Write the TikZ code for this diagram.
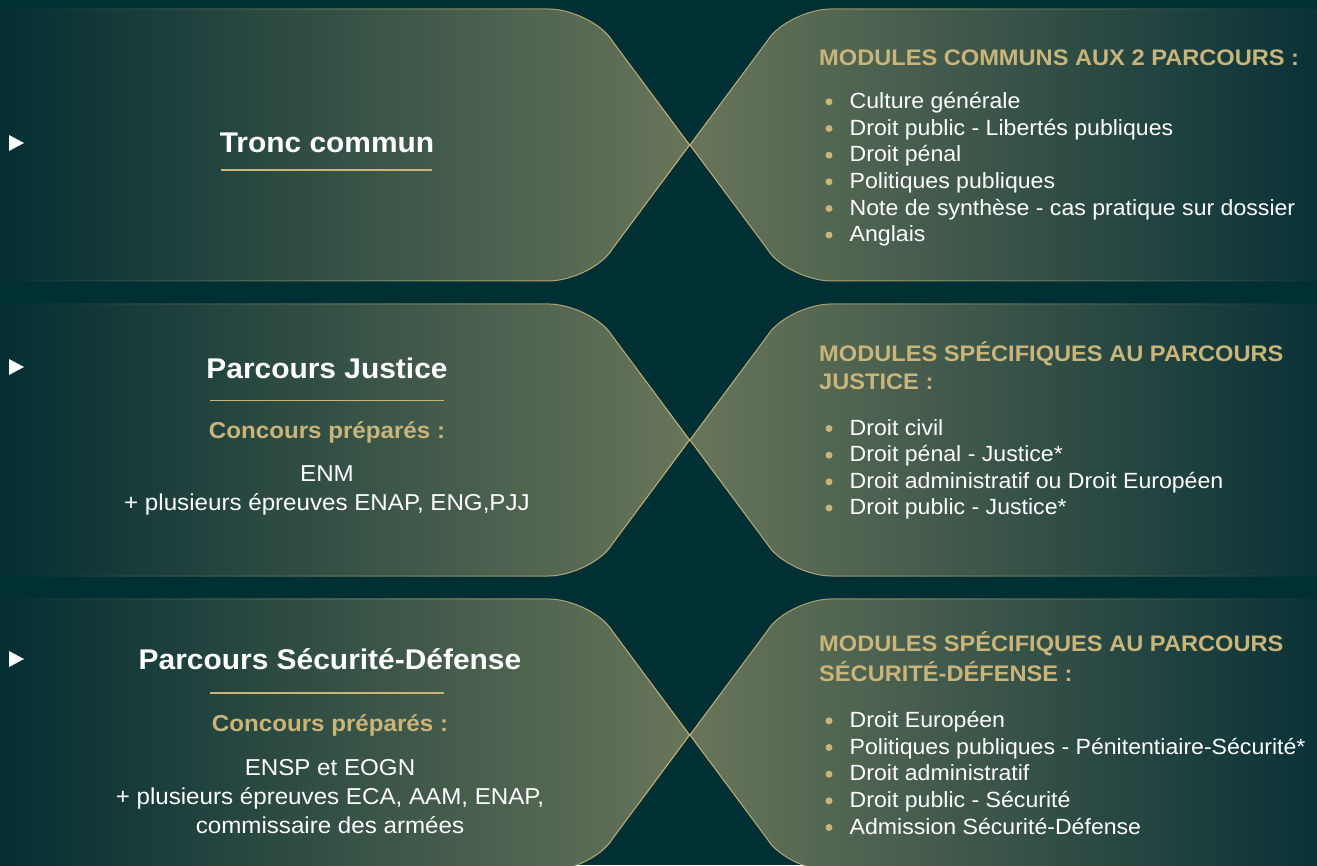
\documentclass[tikz,border=0pt]{standalone}
\usepackage{fontspec}
\setmainfont{Liberation Sans}[FakeStretch=1.05]
\usetikzlibrary{fadings}
\definecolor{bg}{RGB}{0,48,52}
\definecolor{gold}{RGB}{201,181,122}
\definecolor{olive}{RGB}{104,117,90}
\definecolor{darkl}{RGB}{4,46,50}
\definecolor{darkr}{RGB}{10,50,55}
\tikzfading[name=fadeW, left color=transparent!100, middle color=transparent!15, right color=transparent!0]
\tikzfading[name=fadeE, left color=transparent!0, middle color=transparent!15, right color=transparent!100]
\newcommand\lshapepath[1]{(0,#1) -- (549,#1) .. controls (571,#1) and (602.3,#1+14.4) .. (612.8,#1+32.1) -- (690,#1+136) -- (612.8,#1+239.9) .. controls (602.3,#1+257.6) and (571,#1+272) .. (549,#1+272) -- (0,#1+272)}
\newcommand\rshapepath[1]{(1317,#1) -- (831,#1) .. controls (809,#1) and (777.7,#1+14.4) .. (767.2,#1+32.1) -- (690,#1+136) -- (767.2,#1+239.9) .. controls (777.7,#1+257.6) and (809,#1+272) .. (831,#1+272) -- (1317,#1+272)}
\tikzset{
  lhead/.style={anchor=base, text=white, font=\fontsize{28.5}{32}\selectfont\bfseries, inner sep=0pt},
  lsub/.style={anchor=base, text=gold, font=\fontsize{23}{26}\selectfont\bfseries, inner sep=0pt},
  lbody/.style={anchor=base, text=white, font=\fontsize{23}{26}\selectfont, inner sep=0pt},
  rhead/.style={anchor=base west, text=gold, font=\fontsize{22.5}{26}\selectfont\bfseries, inner sep=0pt},
  ritem/.style={anchor=base west, text=white, font=\fontsize{22}{26}\selectfont, inner sep=0pt},
  bul/.style={fill=gold, circle, inner sep=0pt, minimum size=7pt},
  rule/.style={draw=gold, line width=1.1pt},
  edge/.style={draw=gold, line width=1pt},
  marker/.style={fill=white},
}
\begin{document}
\begin{tikzpicture}[x=1pt,y=-1pt]
\useasboundingbox (0,0) rectangle (1317,865);
\fill[bg] (0,0) rectangle (1317,865);
\clip (0,0) rectangle (1317,865);
% shapes
\foreach \t in {9,304,599}{
  \shade[left color=darkl, right color=olive] \lshapepath{\t} -- cycle;
  \shade[left color=olive, right color=darkr] \rshapepath{\t} -- cycle;
  \path[edge, path fading=fadeW] \lshapepath{\t};
  \path[edge, path fading=fadeE] \rshapepath{\t};
}
% markers
\fill[marker] (9,135) -- (24,143) -- (9,151) -- cycle;
\fill[marker] (9,359) -- (24,367) -- (9,375) -- cycle;
\fill[marker] (9,651) -- (24,659) -- (9,667) -- cycle;
% row 1 left
\node[lhead] (t1) at (327,152) {Tronc commun};
\draw[rule] (221,170) -- (432,170);
% row 2 left
\node[lhead] (t2) at (327,378) {Parcours Justice};
\draw[rule] (210,400.5) -- (444,400.5);
\node[lsub] (c2) at (327,438) {Concours préparés :};
\node[lbody] (b2a) at (327,481.5) {ENM};
\node[lbody] (b2b) at (327,510) {+ plusieurs épreuves ENAP, ENG,PJJ};
% row 3 left
\node[lhead] (t3) at (330,669) {Parcours Sécurité-Défense};
\draw[rule] (210,693) -- (444,693);
\node[lsub] (c3) at (330,731.5) {Concours préparés :};
\node[lbody] (b3a) at (330,775) {ENSP et EOGN};
\node[lbody] (b3b) at (330,804) {+ plusieurs épreuves ECA, AAM, ENAP,};
\node[lbody] (b3c) at (330,833) {commissaire des armées};
% row 1 right
\node[rhead] (m1) at (819,65) {MODULES COMMUNS AUX 2 PARCOURS :};
\foreach \y/\txt [count=\i] in {108.3/Culture générale, 135/Droit public - Libertés publiques, 161.7/Droit pénal, 188.3/Politiques publiques, 215/Note de synthèse - cas pratique sur dossier, 241.5/Anglais}{
  \node[bul] (d1\i) at (829,\y-6.5) {};
  \node[ritem] (i1\i) at (849.5,\y) {\txt};
}
% row 2 right
\node[rhead] (m2a) at (819,361) {MODULES SPÉCIFIQUES AU PARCOURS};
\node[rhead] (m2b) at (819,389.3) {JUSTICE :};
\foreach \y/\txt [count=\i] in {435/Droit civil, 461.7/Droit pénal - Justice*, 488.3/Droit administratif ou Droit Européen, 514.5/Droit public - Justice*}{
  \node[bul] (d2\i) at (829,\y-6.5) {};
  \node[ritem] (i2\i) at (849.5,\y) {\txt};
}
% row 3 right
\node[rhead] (m3a) at (819,651.7) {MODULES SPÉCIFIQUES AU PARCOURS};
\node[rhead] (m3b) at (819,681) {SÉCURITÉ-DÉFENSE :};
\foreach \y/\txt [count=\i] in {727.3/Droit Européen, 754/Politiques publiques - Pénitentiaire-Sécurité*, 780.7/Droit administratif, 807.3/Droit public - Sécurité, 834/Admission Sécurité-Défense}{
  \node[bul] (d3\i) at (829,\y-6.5) {};
  \node[ritem] (i3\i) at (849.5,\y) {\txt};
}
\end{tikzpicture}
\end{document}
